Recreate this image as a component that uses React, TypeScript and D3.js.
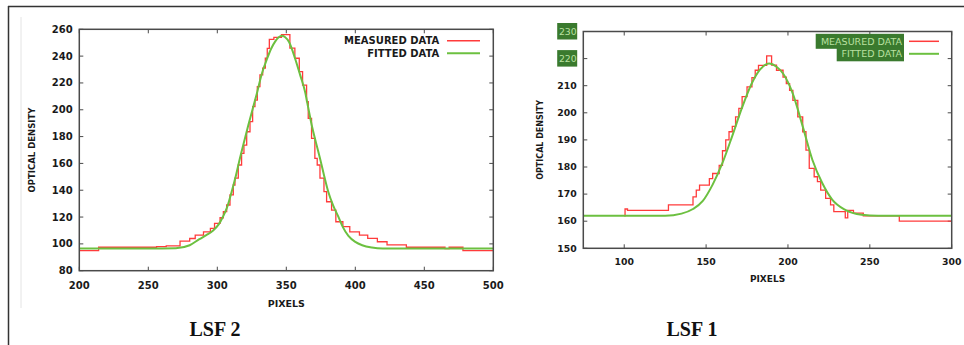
import React from "react";
import * as d3 from "d3";

// ---------- LSF 2 (left) ----------
const L_X_TICKS = [200, 250, 300, 350, 400, 450, 500];
const L_Y_TICKS = [80, 100, 120, 140, 160, 180, 200, 220, 240, 260];
const L_MEAS_X = [200, 214, 256, 263, 273, 280, 284, 290, 295, 298, 302, 304.4, 306.8, 309.2, 311.6, 312.8, 315.2, 317.6, 319.3, 321.3, 323.7, 325.6, 327.3, 329, 330.9, 332.9, 334.8, 336.2, 337.7, 341, 346.5, 352.6, 356.2, 359.4, 361.8, 364.7, 365.9, 368.3, 370.7, 372.4, 374.4, 377.3, 379.2, 382.8, 385.9, 391, 396, 403, 409, 416, 423, 437, 465, 468, 478, 500];
const L_MEAS_Y = [95, 97.5, 98, 98.5, 102, 104, 106.6, 109, 111.5, 115.3, 119.5, 124, 129, 136.5, 143.9, 149, 158.8, 167.5, 173.7, 183.6, 191.1, 202.3, 207.2, 217.2, 226, 231, 238.4, 245.8, 252.5, 254, 256, 246, 238.4, 228.4, 218.4, 206, 193.6, 178.7, 163.8, 158.8, 149, 138.9, 131.4, 125.2, 116.5, 112.8, 109, 106.6, 104.1, 101.6, 99.2, 97.5, 96.5, 97.5, 95, 95];
const L_FIT_X = [200, 250, 270, 280, 287, 292, 297, 301, 304, 307, 310.4, 313.5, 316.4, 319.5, 322.5, 326, 329, 332, 336.2, 339, 342, 344.5, 346.7, 349, 352, 356.3, 360, 363.6, 366, 368.4, 371.5, 374.4, 377.5, 380.4, 384, 387.7, 391, 395, 400, 405, 412, 420, 500];
const L_FIT_Y = [96.5, 96.5, 96.8, 99, 103.5, 106.5, 110, 114.5, 120, 127, 138.9, 151, 163.8, 176.5, 188.6, 202, 213.5, 226, 238.4, 245.5, 251, 254, 255.2, 254.3, 250.5, 238.4, 226, 213.5, 201, 188.6, 175.5, 163.8, 150.5, 138.9, 128.5, 120.3, 112.5, 106, 101.5, 99, 97.3, 96.6, 96.5];

// ---------- LSF 1 (right) ----------
const R_X_TICKS = [100, 150, 200, 250, 300];
const R_Y_TICKS = [150, 160, 170, 180, 190, 200, 210, 220, 230];
const R_Y_HIGHLIGHT = [220, 230];
const R_MEAS_X = [100, 100.5, 102, 127, 142, 144, 146, 152, 154, 158, 160, 162, 164, 166, 168, 170, 172, 175, 178, 180, 182, 187, 190, 193, 197, 199, 201, 203, 206, 209, 211, 213, 216, 218, 220, 223, 226, 228, 235, 236.5, 240, 246, 268, 300];
const R_MEAS_Y = [162, 164.5, 164, 166, 169, 171.5, 173.3, 175.7, 177.6, 180.6, 186, 190, 193, 195, 198.5, 201.6, 206, 209.6, 213, 215.7, 217.5, 221, 217.6, 215.7, 213.2, 210.8, 208.3, 204.6, 198.5, 193, 186.2, 179.5, 176.4, 174.6, 171.5, 168.4, 166, 163.5, 161.2, 164, 163, 162, 160, 160];
const R_FIT_X = [75, 125, 135, 142, 148, 154, 160, 166, 172, 178, 183, 188.5, 193, 197, 203, 209, 215, 221, 227, 235, 245, 255, 300];
const R_FIT_Y = [162, 162, 162.8, 164.5, 167.5, 173.5, 181.5, 191.5, 202, 211, 216, 218.2, 217, 214.5, 207, 195, 182.5, 174, 168, 164.2, 162.4, 162, 162];

const LEGEND = ["MEASURED DATA", "FITTED DATA"];
const RED = "#ff3b3b";
const GREEN = "#6cc040";
const AXIS = "#4a4a4a";
const FONT = "DejaVu Sans, sans-serif";

type PanelProps = {
  xDomain: [number, number];
  yDomain: [number, number];
  xRange: [number, number];
  yRange: [number, number];
  xTicks: number[];
  yTicks: number[];
  measX: number[];
  measY: number[];
  fitX: number[];
  fitY: number[];
  fs: number;
  labelFs: number;
  yLabelX: number;
  xLabelY: number;
  pixelsY: number;
  odX: number;
  caption: string;
  captionX: number;
  highlight?: number[];
  legend: { textRight: number; y0: number; dy: number; lineX0: number; lineX1: number; boxed: boolean; boxLeft?: number[] };
};

function Panel(p: PanelProps) {
  const x = d3.scaleLinear().domain(p.xDomain).range(p.xRange);
  const y = d3.scaleLinear().domain(p.yDomain).range(p.yRange);
  const meas = d3
    .line<number>()
    .x((_, i) => x(p.measX[i]))
    .y((d) => y(d))
    .curve(d3.curveStepAfter)(p.measY) as string;
  const fit = d3
    .line<number>()
    .x((_, i) => x(p.fitX[i]))
    .y((d) => y(d))
    .curve(d3.curveMonotoneX)(p.fitY) as string;
  const [x0, x1] = p.xRange;
  const [yb, yt] = p.yRange;
  const tl = 4;
  const hl = p.highlight || [];
  const clipId = "clip" + p.caption.replace(/\s/g, "");
  return (
    <g>
      <defs>
        <clipPath id={clipId}>
          <rect x={x0} y={yt} width={x1 - x0} height={yb - yt} />
        </clipPath>
      </defs>
      {p.xTicks.map((t) => (
        <g key={"xt" + t}>
          <line x1={x(t)} x2={x(t)} y1={yb} y2={yb - tl} stroke={AXIS} strokeWidth={1} />
          <line x1={x(t)} x2={x(t)} y1={yt} y2={yt + tl} stroke={AXIS} strokeWidth={1} />
          <text x={x(t)} y={p.xLabelY} textAnchor="middle" fontFamily={FONT} fontWeight="bold" fontSize={p.fs} fill="#1a1a1a">
            {t}
          </text>
        </g>
      ))}
      {p.yTicks.map((t) => (
        <g key={"yt" + t}>
          <line x1={x0} x2={x0 + tl} y1={y(t)} y2={y(t)} stroke={AXIS} strokeWidth={1} />
          <line x1={x1} x2={x1 - tl} y1={y(t)} y2={y(t)} stroke={AXIS} strokeWidth={1} />
          {hl.includes(t) ? (
            <g>
              <rect x={p.yLabelX - 19.5} y={y(t) - 8.5} width={20} height={16.5} fill="#3a7a2e" />
              <text x={p.yLabelX} y={y(t)} dy="0.35em" textAnchor="end" fontFamily={FONT} fontSize={p.fs} fill="#b9e0a0">
                {t}
              </text>
            </g>
          ) : (
            <text x={p.yLabelX} y={y(t)} dy="0.35em" textAnchor="end" fontFamily={FONT} fontWeight="bold" fontSize={p.fs} fill="#1a1a1a">
              {t}
            </text>
          )}
        </g>
      ))}
      <g clipPath={`url(#${clipId})`}>
        <path d={meas} fill="none" stroke={RED} strokeWidth={1.3} />
        <path d={fit} fill="none" stroke={GREEN} strokeWidth={2} />
      </g>
      <rect x={x0} y={yt} width={x1 - x0} height={yb - yt} fill="none" stroke={AXIS} strokeWidth={1.5} />
      {LEGEND.map((lab, i) => {
        const ly = p.legend.y0 + i * p.legend.dy;
        return (
          <g key={lab}>
            {p.legend.boxed && p.legend.boxLeft ? (
              <rect x={p.legend.boxLeft[i]} y={ly - 7.5} width={p.legend.textRight + 2 - p.legend.boxLeft[i]} height={15} fill="#3a7a2e" />
            ) : null}
            <text
              x={p.legend.textRight}
              y={ly}
              dy="0.35em"
              textAnchor="end"
              fontFamily={FONT}
              fontWeight={p.legend.boxed ? "normal" : "bold"}
              fontSize={p.labelFs}
              fill={p.legend.boxed ? "#b9e0a0" : "#1a1a1a"}
            >
              {lab}
            </text>
            <line x1={p.legend.lineX0} x2={p.legend.lineX1} y1={ly} y2={ly} stroke={i === 0 ? RED : GREEN} strokeWidth={i === 0 ? 1.5 : 2} />
          </g>
        );
      })}
      <text x={(x0 + x1) / 2} y={p.pixelsY} textAnchor="middle" fontFamily={FONT} fontWeight="bold" fontSize={p.labelFs - 0.5} fill="#1a1a1a">
        PIXELS
      </text>
      <text
        transform={`translate(${p.odX},${(yb + yt) / 2}) rotate(-90)`}
        textAnchor="middle"
        fontFamily={FONT}
        fontWeight="bold"
        fontSize={p.labelFs - 1.5}
        fill="#1a1a1a"
      >
        OPTICAL DENSITY
      </text>
      <text x={p.captionX} y={336} textAnchor="middle" fontFamily="Liberation Serif, serif" fontWeight="bold" fontSize={20} fill="#111">
        {p.caption}
      </text>
    </g>
  );
}

export default function App() {
  return (
    <svg width={964} height={345} style={{ position: "absolute", left: 0, top: 0, background: "#fff" }}>
      <rect x={0} y={0} width={964} height={345} fill="#fff" />
      <line x1={8} x2={964} y1={6.5} y2={6.5} stroke="#333" strokeWidth={1.5} />
      <line x1={8.5} x2={8.5} y1={6} y2={345} stroke="#333" strokeWidth={1.5} />
      <line x1={21} x2={21} y1={17} y2={308} stroke="#e4e4e4" strokeWidth={1} />
      <Panel
        xDomain={[200, 500]}
        yDomain={[80, 260]}
        xRange={[79.3, 493.3]}
        yRange={[270.7, 29.3]}
        xTicks={L_X_TICKS}
        yTicks={L_Y_TICKS}
        measX={L_MEAS_X}
        measY={L_MEAS_Y}
        fitX={L_FIT_X}
        fitY={L_FIT_Y}
        fs={10}
        labelFs={10}
        yLabelX={72.7}
        xLabelY={288.5}
        pixelsY={306.5}
        odX={34.5}
        caption="LSF 2"
        captionX={215}
        legend={{ textRight: 439.3, y0: 40.7, dy: 12.6, lineX0: 447, lineX1: 480, boxed: false }}
      />
      <Panel
        xDomain={[75, 300]}
        yDomain={[150, 230]}
        xRange={[583.3, 951.7]}
        yRange={[248.3, 31.5]}
        xTicks={R_X_TICKS}
        yTicks={R_Y_TICKS}
        measX={R_MEAS_X}
        measY={R_MEAS_Y}
        fitX={R_FIT_X}
        fitY={R_FIT_Y}
        fs={9.3}
        labelFs={9.5}
        yLabelX={576.7}
        xLabelY={265}
        pixelsY={281.7}
        odX={543}
        caption="LSF 1"
        captionX={692}
        highlight={R_Y_HIGHLIGHT}
        legend={{ textRight: 902, y0: 41.3, dy: 12.5, lineX0: 909, lineX1: 939, boxed: true, boxLeft: [815.7, 836.7] }}
      />
    </svg>
  );
}
